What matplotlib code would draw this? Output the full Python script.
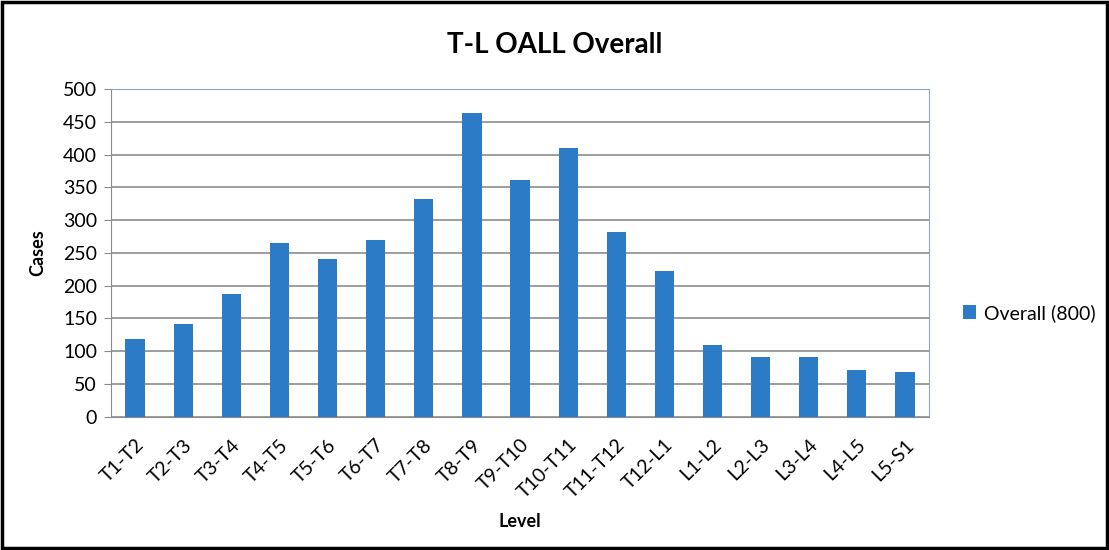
import matplotlib.pyplot as plt
from matplotlib.patches import Rectangle

levels = ["T1-T2", "T2-T3", "T3-T4", "T4-T5", "T5-T6", "T6-T7", "T7-T8", "T8-T9",
          "T9-T10", "T10-T11", "T11-T12", "T12-L1", "L1-L2", "L2-L3", "L3-L4",
          "L4-L5", "L5-S1"]
cases = [119, 141, 188, 265, 241, 269, 333, 464, 362, 410, 282, 222, 109, 91, 91, 72, 68]
series_name = "Overall (800)"

plt.rcParams["font.family"] = ["Lato", "DejaVu Sans"]

fig = plt.figure(figsize=(11.09, 5.5), dpi=100)
ax = fig.add_axes([0.1001, 0.2424, 0.7376, 0.5956])

x = list(range(len(levels)))
ax.bar(x, cases, width=0.4, color="#2B7BC6", label=series_name, zorder=3)

ax.set_xlim(-0.5, len(levels) - 0.5)
ax.set_ylim(0, 500)
ax.set_yticks(range(0, 501, 50))
ax.yaxis.grid(True, color="#8c8c8c", linewidth=1.2, zorder=0)
ax.set_xticks(x)
ax.set_xticklabels(levels, rotation=45, ha="right", rotation_mode="anchor", fontsize=14)
ax.tick_params(axis="y", labelsize=14, length=5, color="#8c8c8c", pad=5)
ax.tick_params(axis="x", length=0, pad=14)
for side in ["top", "right"]:
    ax.spines[side].set_color("#8fa5bd")
ax.spines["left"].set_color("#8c8c8c")
ax.spines["bottom"].set_color("#8c8c8c")

ax.set_ylabel("Cases", fontsize=13, fontweight="bold", labelpad=12)
ax.set_xlabel("Level", fontsize=13, fontweight="bold", labelpad=8)
fig.text(0.5, 1 - 45 / 550, "T-L OALL Overall", fontsize=20, fontweight="bold",
         ha="center", va="center")

ax.legend(loc="center left", bbox_to_anchor=(1.02, 0.317), frameon=False,
          fontsize=14, handlelength=0.7, handleheight=0.7, handletextpad=0.4)

fig.patches.append(Rectangle((0.002, 0.003), 0.996, 0.994, transform=fig.transFigure,
                             fill=False, edgecolor="black", linewidth=2.5))

fig.savefig("out.png", dpi=100)
